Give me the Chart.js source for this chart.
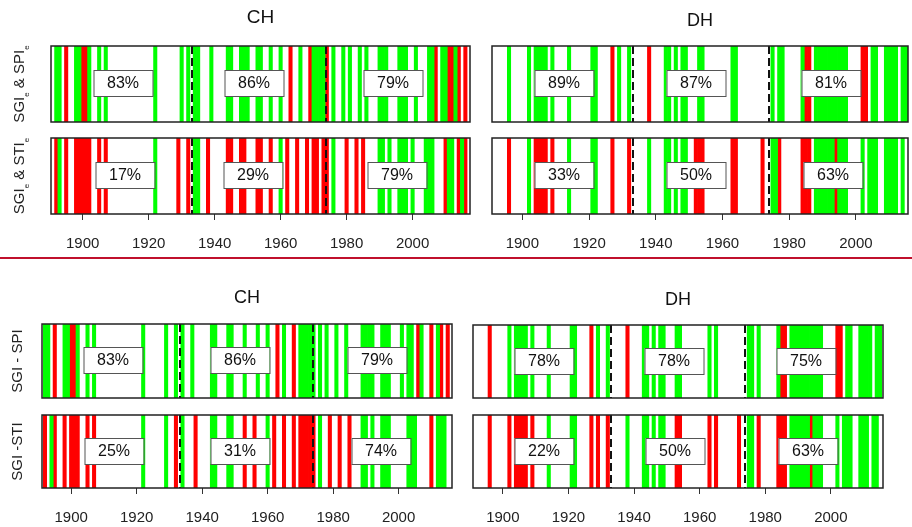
<!DOCTYPE html>
<html>
<head>
<meta charset="utf-8">
<script src="https://cdn.jsdelivr.net/npm/chart.js@4.4.1/dist/chart.umd.min.js"></script>
<style>
  html, body { margin: 0; padding: 0; background: #fff; }
  #wrap { position: relative; width: 912px; height: 527px; overflow: hidden; }
  #wrap canvas { position: absolute; left: 0; top: 0; }
  #rule { position: absolute; left: 0; top: 257px; width: 912px; height: 2px; background: #c0102c; }
</style>
</head>
<body>
<div id="wrap"><div id="rule"></div></div>
<script>
// x axis labels and period breaks
const tickYears = [1900, 1920, 1940, 1960, 1980, 2000];
const breakYears = [1933.1, 1973.9];

// upper block, CH: concordant (green) / discordant (red) years
const chSpiEGreen = [1892, 1893, 1898, 1899, 1902, 1905, 1907, 1922, 1930, 1932, 1934, 1935, 1939, 1944, 1945,
  1948, 1949, 1950, 1953, 1954, 1957, 1960, 1966, 1970, 1971, 1972, 1973, 1976, 1979, 1981, 1984, 1986,
  1990, 1991, 1992, 1996, 1997, 1998, 2001, 2005, 2006, 2009, 2010, 2013];
const chSpiERed = [1895, 1900, 1901, 1963, 1969, 1974, 2007, 2011, 2012, 2014, 2016];
const chStiEGreen = [1893, 1922, 1934, 1935, 1960, 1976, 1990, 1991, 1993, 1996, 1997, 1998, 2000, 2004, 2005,
  2006, 2011, 2012, 2015];
const chStiERed = [1892, 1895, 1898, 1899, 1900, 1901, 1902, 1905, 1907, 1929, 1932, 1938, 1944, 1945, 1948,
  1949, 1953, 1954, 1957, 1962, 1965, 1968, 1970, 1971, 1973, 1974, 1980, 1983, 1985, 2010, 2014, 2016];

// upper block, DH
const dhSpiEGreen = [1896, 1902, 1904, 1905, 1906, 1907, 1909, 1914, 1921, 1922, 1929, 1932, 1943, 1944, 1946,
  1948, 1949, 1953, 1954, 1963, 1964, 1975, 1977, 1978, 1984, 1988, 1989, 1990, 1991, 1992, 1993, 1994,
  1995, 1996, 1997, 2005, 2006, 2009, 2010, 2011, 2012, 2014, 2015];
const dhSpiERed = [1927, 1938, 1985, 1986, 2002, 2003];
const dhStiEGreen = [1902, 1914, 1921, 1922, 1938, 1943, 1944, 1946, 1948, 1949, 1975, 1976, 1988, 1989, 1990,
  1991, 1992, 1993, 1995, 1996, 1997, 2002, 2004, 2005, 2006, 2009, 2010, 2011, 2012, 2014];
const dhStiERed = [1896, 1904, 1905, 1906, 1907, 1909, 1927, 1932, 1952, 1953, 1954, 1963, 1964, 1972, 1977,
  1984, 1985, 1986, 1994];

// lower block, CH
const chSpiGreen = [1892, 1893, 1898, 1899, 1902, 1905, 1907, 1922, 1929, 1932, 1934, 1937, 1943, 1944, 1948,
  1949, 1953, 1957, 1960, 1965, 1970, 1971, 1972, 1973, 1974, 1976, 1978, 1981, 1984, 1989, 1990, 1991,
  1992, 1995, 1996, 1997, 2001, 2003, 2004, 2007, 2012];
const chSpiRed = [1895, 1900, 1901, 1963, 1968, 2006, 2010, 2013, 2015];
const chStiGreen = [1894, 1922, 1929, 1934, 1943, 1944, 1948, 1949, 1960, 1976, 1989, 1990, 1992, 1995, 1996,
  1997, 2003, 2004, 2005, 2012, 2013, 2014];
const chStiRed = [1892, 1895, 1898, 1900, 1901, 1902, 1905, 1907, 1932, 1938, 1953, 1956, 1962, 1965, 1968,
  1970, 1971, 1972, 1973, 1974, 1979, 1982, 1985, 2010];

// lower block, DH
const dhSpiGreen = [1902, 1904, 1905, 1906, 1907, 1909, 1914, 1921, 1922, 1929, 1932, 1943, 1944, 1946, 1948,
  1949, 1953, 1954, 1963, 1965, 1975, 1976, 1978, 1984, 1988, 1989, 1990, 1991, 1992, 1993, 1994, 1995,
  1996, 1997, 2005, 2006, 2009, 2010, 2011, 2012, 2014, 2015];
const dhSpiRed = [1896, 1927, 1938, 1985, 1986, 2002, 2003];
const dhStiGreen = [1914, 1921, 1922, 1938, 1943, 1944, 1946, 1948, 1949, 1975, 1976, 1988, 1989, 1990, 1991,
  1992, 1993, 1995, 1996, 1997, 2002, 2004, 2005, 2006, 2009, 2010, 2011, 2013, 2014];
const dhStiRed = [1896, 1902, 1904, 1905, 1906, 1907, 1909, 1927, 1929, 1932, 1953, 1954, 1963, 1965, 1972,
  1978, 1984, 1985, 1986, 1994];

// share of concordant years per period (%)
const chSpiEShare = [83, 86, 79];
const chStiEShare = [17, 29, 79];
const dhSpiEShare = [89, 87, 81];
const dhStiEShare = [33, 50, 63];
const chSpiShare = [83, 86, 79];
const chStiShare = [25, 31, 74];
const dhSpiShare = [78, 78, 75];
const dhStiShare = [22, 50, 63];

const W = 912, H = 527, AXIS_H = 40;
const FONT = '"Liberation Sans", Arial, sans-serif';
const GREEN = '#00ff00', RED = '#ff0000';

// rotated label, "_x" marks a subscript character
function drawSideLabel(ctx, text, cx, cy) {
  const parts = [];
  text.split('_').forEach((seg, i) => {
    if (i === 0) { parts.push([seg, false]); return; }
    parts.push([seg[0], true]);
    if (seg.length > 1) parts.push([seg.slice(1), false]);
  });
  const big = '15px ' + FONT, small = '8px ' + FONT;
  let total = 0;
  parts.forEach(p => { ctx.font = p[1] ? small : big; total += ctx.measureText(p[0]).width; });
  ctx.save();
  ctx.translate(cx, cy);
  ctx.rotate(-Math.PI / 2);
  ctx.fillStyle = '#222';
  ctx.textAlign = 'left';
  ctx.textBaseline = 'alphabetic';
  let px = -total / 2;
  parts.forEach(p => {
    ctx.font = p[1] ? small : big;
    ctx.fillText(p[0], px, p[1] ? 11 : 5.5);
    px += ctx.measureText(p[0]).width;
  });
  ctx.restore();
}

function decor(cfg) {
  return {
    id: 'decor',
    afterDatasetsDraw(chart) {
      const { ctx, chartArea: a } = chart;
      const x = chart.scales.x;
      ctx.save();
      // period breaks
      ctx.strokeStyle = '#111';
      ctx.lineWidth = 2;
      ctx.setLineDash([8, 4]);
      breakYears.forEach(yr => {
        const px = Math.round(x.getPixelForValue(yr));
        ctx.beginPath();
        ctx.moveTo(px, a.top);
        ctx.lineTo(px, a.bottom);
        ctx.stroke();
      });
      ctx.setLineDash([]);
      // frame
      ctx.strokeStyle = '#222';
      ctx.lineWidth = 1.5;
      ctx.strokeRect(a.left, a.top, a.right - a.left, a.bottom - a.top);
      // period shares
      const cy = Math.round((a.top + a.bottom) / 2) - 1;
      cfg.share.forEach((v, i) => {
        const cx = Math.round(x.getPixelForValue(cfg.boxYears[i]));
        const bw = 59, bh = 26;
        ctx.fillStyle = '#fff';
        ctx.fillRect(cx - bw / 2, cy - bh / 2, bw, bh);
        ctx.strokeStyle = '#555';
        ctx.lineWidth = 1;
        ctx.strokeRect(cx - bw / 2 + 0.5, cy - bh / 2 + 0.5, bw, bh);
        ctx.fillStyle = '#111';
        ctx.font = '16px ' + FONT;
        ctx.textAlign = 'center';
        ctx.textBaseline = 'middle';
        ctx.fillText(v + '%', cx, cy + 1);
      });
      if (cfg.heading) {
        ctx.fillStyle = '#111';
        ctx.font = cfg.headingSize + 'px ' + FONT;
        ctx.textAlign = 'center';
        ctx.textBaseline = 'middle';
        ctx.fillText(cfg.heading, (a.left + a.right) / 2, cfg.headingY);
      }
      if (cfg.side) drawSideLabel(ctx, cfg.side, cfg.sideX, (a.top + a.bottom) / 2);
      ctx.restore();
    }
  };
}

function makePanel(cfg) {
  const canvas = document.createElement('canvas');
  canvas.width = W;
  canvas.height = H;
  document.getElementById('wrap').insertBefore(canvas, document.getElementById('rule'));
  const bars = (years, color) => ({
    data: years.map(yr => ({ x: yr, y: 1 })),
    backgroundColor: color,
    borderWidth: 0,
    barThickness: 3.4,
    grouped: false
  });
  const axisH = cfg.axis ? AXIS_H : 0;
  new Chart(canvas, {
    type: 'bar',
    data: { datasets: [bars(cfg.green, GREEN), bars(cfg.red, RED)] },
    options: {
      responsive: false,
      animation: false,
      events: [],
      devicePixelRatio: 1,
      layout: {
        padding: { left: cfg.left, top: cfg.top, right: W - cfg.right, bottom: H - cfg.bottom - axisH }
      },
      plugins: { legend: { display: false }, tooltip: { enabled: false } },
      scales: {
        x: {
          type: 'linear',
          min: cfg.xMin,
          max: cfg.xMax,
          offset: false,
          display: cfg.axis,
          afterBuildTicks: s => { s.ticks = tickYears.map(v => ({ value: v })); },
          afterFit: s => { s.height = axisH; },
          grid: { offset: false, drawOnChartArea: false, drawTicks: true, tickLength: 6, color: '#333' },
          border: { display: false },
          ticks: {
            font: { family: FONT, size: 15 },
            color: '#222',
            padding: 15,
            maxRotation: 0,
            autoSkip: false,
            callback: v => String(v)
          }
        },
        y: { min: 0, max: 1, display: false }
      }
    },
    plugins: [decor(cfg)]
  });
}

makePanel({ left: 51, right: 470, top: 46, bottom: 122, xMin: 1890.4, xMax: 2017.4, axis: false,
  green: chSpiEGreen, red: chSpiERed, share: chSpiEShare, boxYears: [1912.3, 1951.8, 1994.2],
  heading: 'CH', headingY: 18, headingSize: 19, side: 'SGI_e & SPI_e', sideX: 18 });
makePanel({ left: 51, right: 470, top: 138, bottom: 214, xMin: 1890.4, xMax: 2017.4, axis: true,
  green: chStiEGreen, red: chStiERed, share: chStiEShare, boxYears: [1912.9, 1951.6, 1995.3],
  side: 'SGI_e & STI_e', sideX: 18 });
makePanel({ left: 492, right: 908, top: 46, bottom: 122, xMin: 1890.9, xMax: 2015.6, axis: false,
  green: dhSpiEGreen, red: dhSpiERed, share: dhSpiEShare, boxYears: [1912.4, 1952, 1992.5],
  heading: 'DH', headingY: 21, headingSize: 18 });
makePanel({ left: 492, right: 908, top: 138, bottom: 214, xMin: 1890.9, xMax: 2015.6, axis: true,
  green: dhStiEGreen, red: dhStiERed, share: dhStiEShare, boxYears: [1912.4, 1952, 1993.1] });

makePanel({ left: 42, right: 452, top: 324, bottom: 398, xMin: 1891.1, xMax: 2016.3, axis: false,
  green: chSpiGreen, red: chSpiRed, share: chSpiShare, boxYears: [1912.8, 1951.5, 1993.5],
  heading: 'CH', headingY: 298, headingSize: 18, side: 'SGI - SPI', sideX: 16 });
makePanel({ left: 42, right: 452, top: 415, bottom: 488, xMin: 1891.1, xMax: 2016.3, axis: true,
  green: chStiGreen, red: chStiRed, share: chStiShare, boxYears: [1913.2, 1951.5, 1994.5],
  side: 'SGI -STI', sideX: 16 });
makePanel({ left: 473, right: 883, top: 325, bottom: 398, xMin: 1890.9, xMax: 2015.9, axis: false,
  green: dhSpiGreen, red: dhSpiRed, share: dhSpiShare, boxYears: [1912.5, 1952.2, 1992.3],
  heading: 'DH', headingY: 300, headingSize: 18 });
makePanel({ left: 473, right: 883, top: 415, bottom: 488, xMin: 1890.9, xMax: 2015.9, axis: true,
  green: dhStiGreen, red: dhStiRed, share: dhStiShare, boxYears: [1912.4, 1952.4, 1992.9] });
</script>
</body>
</html>
